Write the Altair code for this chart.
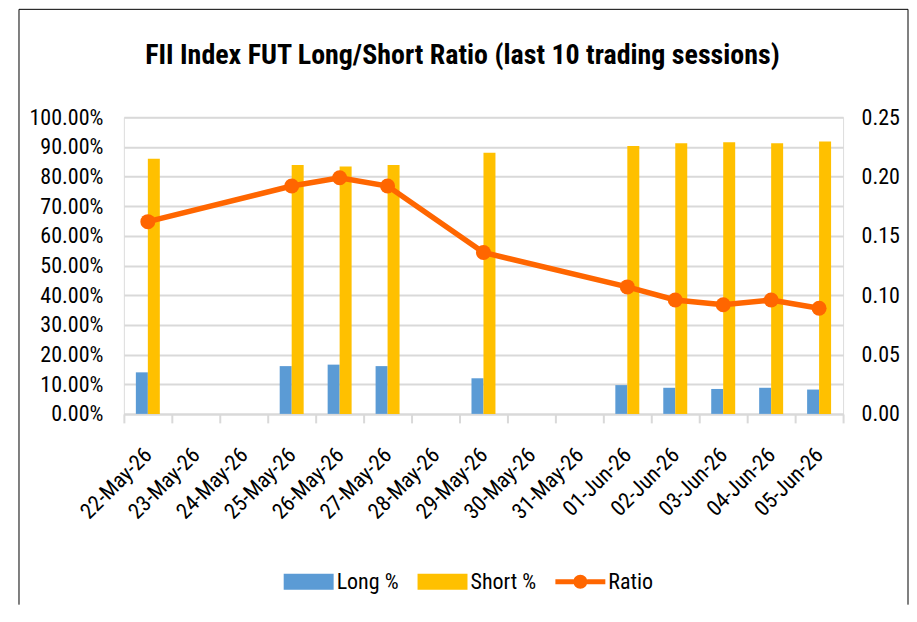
import altair as alt
import pandas as pd

# ---- data ----
all_dates = ["22-May-26", "23-May-26", "24-May-26", "25-May-26", "26-May-26",
             "27-May-26", "28-May-26", "29-May-26", "30-May-26", "31-May-26",
             "01-Jun-26", "02-Jun-26", "03-Jun-26", "04-Jun-26", "05-Jun-26"]
trade_dates = ["22-May-26", "25-May-26", "26-May-26", "27-May-26", "29-May-26",
               "01-Jun-26", "02-Jun-26", "03-Jun-26", "04-Jun-26", "05-Jun-26"]
long_pct = [14.0, 16.1, 16.6, 16.1, 12.0, 9.7, 8.8, 8.4, 8.8, 8.2]
short_pct = [86.0, 83.9, 83.4, 83.9, 88.0, 90.3, 91.2, 91.6, 91.2, 91.8]
ratio = [0.162, 0.192, 0.199, 0.192, 0.136, 0.107, 0.096, 0.092, 0.096, 0.089]
series_names = ["Long %", "Short %", "Ratio"]
series_colors = ["#5B9BD5", "#FFC000", "#FF6600"]
pct_ticks = [0.0, 0.1, 0.2, 0.3, 0.4, 0.5, 0.6, 0.7, 0.8, 0.9, 1.0]
ratio_ticks = [0.0, 0.05, 0.10, 0.15, 0.20, 0.25]
title_text = "FII Index FUT Long/Short Ratio (last 10 trading sessions)"

FONT = "Roboto Condensed, DejaVu Sans Condensed, Liberation Sans Narrow, Liberation Sans, sans-serif"
FS = 22
W, H = 720, 297
GRID = "#D9D9D9"

bars_df = pd.DataFrame(
    [{"date": d, "series": "Long %", "value": v / 100} for d, v in zip(trade_dates, long_pct)]
    + [{"date": d, "series": "Short %", "value": v / 100} for d, v in zip(trade_dates, short_pct)]
)
ratio_df = pd.DataFrame({"date": trade_dates, "ratio": ratio, "series": "Ratio"})
legend_df = pd.DataFrame({"series": series_names})
one = alt.Data(values=[{"k": 0}])

x_enc = alt.X(
    "date:N",
    sort=all_dates,
    scale=alt.Scale(domain=all_dates, paddingInner=0, paddingOuter=0),
    axis=alt.Axis(
        title=None, labelAngle=-45, labelAlign="right", labelBaseline="middle",
        labelFont=FONT, labelFontSize=FS, labelColor="#000000", labelPadding=28,
        tickBand="extent", ticks=True, tickColor=GRID, tickWidth=2, tickSize=9,
        domain=True, domainColor=GRID, domainWidth=2, grid=False,
    ),
)

bars = alt.Chart(bars_df).mark_bar().encode(
    x=x_enc,
    xOffset=alt.XOffset("series:N", scale=alt.Scale(domain=["Long %", "Short %"], paddingInner=0, paddingOuter=1)),
    y=alt.Y(
        "value:Q",
        scale=alt.Scale(domain=[0, 1], nice=False),
        axis=alt.Axis(
            title=None, values=pct_ticks, format=".2%", orient="left",
            labelFont=FONT, labelFontSize=FS, labelColor="#000000", labelPadding=21,
            ticks=False, tickSize=0, domain=False,
            grid=True, gridColor=GRID, gridWidth=2,
        ),
    ),
    color=alt.Color("series:N", scale=alt.Scale(domain=series_names, range=series_colors), legend=None),
)

ratio_y = alt.Y(
    "ratio:Q",
    scale=alt.Scale(domain=[0, 0.25], nice=False),
    axis=alt.Axis(
        title=None, values=ratio_ticks, format=".2f", orient="right",
        labelFont=FONT, labelFontSize=FS, labelColor="#000000", labelPadding=18,
        ticks=False, tickSize=0, domain=False, grid=False,
    ),
)

line = alt.Chart(ratio_df).mark_line(color="#FF6600", strokeWidth=5.5).encode(
    x=alt.X("date:N", sort=all_dates, scale=alt.Scale(domain=all_dates)), y=ratio_y
)
pts = alt.Chart(ratio_df).mark_point(color="#FF6600", filled=True, size=225, opacity=1).encode(
    x=alt.X("date:N", sort=all_dates, scale=alt.Scale(domain=all_dates)), y=ratio_y
)
ratio_layer = alt.layer(line, pts)

rect_path = "M-1,-0.32H1V0.32H-1Z"
linedot_path = ("M-1,-0.1H-0.27V0.1H-1Z M0.27,-0.1H1V0.1H0.27Z "
                "M0.28,0A0.28,0.28,0,1,1,-0.28,0A0.28,0.28,0,1,1,0.28,0Z")
leg = alt.Legend(
    title=None, orient="none", direction="horizontal", legendX=160, legendY=440,
    labelFont=FONT, labelFontSize=FS, labelColor="#000000", labelOffset=3,
    symbolSize=2500, symbolStrokeWidth=0, columnPadding=19, symbolOpacity=1,
)
legend_driver = alt.Chart(legend_df).mark_point(filled=True, size=1, opacity=0).encode(
    color=alt.Color("series:N", scale=alt.Scale(domain=series_names, range=series_colors), legend=leg),
    shape=alt.Shape("series:N", scale=alt.Scale(domain=series_names,
                                                 range=[rect_path, rect_path, linedot_path]), legend=leg),
)

frame_l = alt.Chart(one).mark_rule(color="#000000", strokeWidth=1).encode(
    x=alt.value(-105), y=alt.value(-108), y2=alt.value(488))
frame_r = alt.Chart(one).mark_rule(color="#000000", strokeWidth=1).encode(
    x=alt.value(785), y=alt.value(-108), y2=alt.value(488))
frame_t = alt.Chart(one).mark_rule(color="#000000", strokeWidth=1).encode(
    x=alt.value(-105), x2=alt.value(785), y=alt.value(-108))

title = alt.Chart(one).mark_text(
    font=FONT, fontSize=28, fontWeight="bold", color="#000000", align="center", baseline="middle"
).encode(x=alt.value(339), y=alt.value(-61), text=alt.value(title_text))

chart = alt.layer(
    frame_l, frame_r, frame_t, bars, ratio_layer, legend_driver, title
).resolve_scale(y="independent", color="independent", shape="independent").properties(
    width=W, height=H, padding={"left": 10, "top": 0, "right": 0, "bottom": 0}
).configure_view(stroke=None).configure(background="#FFFFFF")

chart.save("out.html", embed_options={"renderer": "svg", "actions": False})
